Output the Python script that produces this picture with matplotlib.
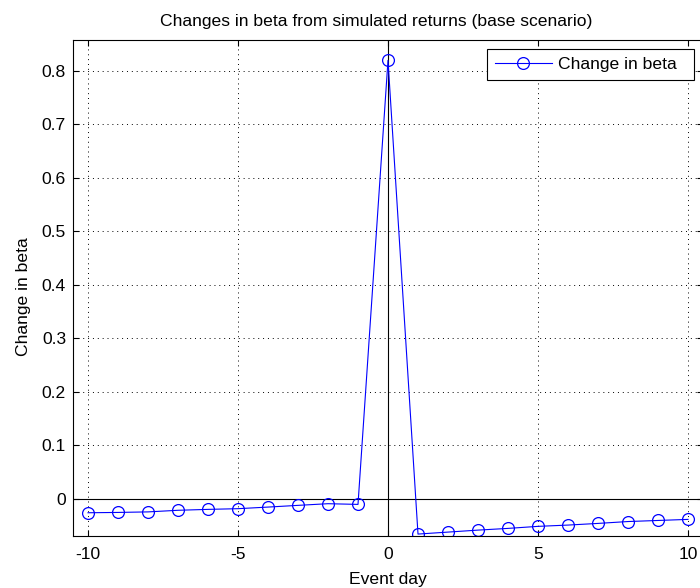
import numpy as np
import matplotlib
matplotlib.use('Agg')
import matplotlib.pyplot as plt

plt.rcParams['font.family'] = ['Liberation Sans', 'DejaVu Sans']

# event days and the change in beta
days = list(range(-10, 11))
beta_change = [-0.0256, -0.025, -0.024, -0.021, -0.0193, -0.018, -0.015, -0.0118,
               -0.0087, -0.010, 0.819,
               -0.0654, -0.0617, -0.058, -0.0548, -0.051, -0.0486, -0.0455,
               -0.042, -0.040, -0.038]

x_ticks = [-10, -5, 0, 5, 10]
y_ticks = [0, 0.1, 0.2, 0.3, 0.4, 0.5, 0.6, 0.7, 0.8]

fs = 12.6

fg = plt.figure(figsize=(7.0, 5.88), dpi=100)
ax = fg.add_axes([73/700, 52/588, 630/700, 496/588])

ax.plot(days, beta_change, '-o', color='#0000ff', lw=0.8, ms=8.5,
        mfc='none', mec='#0000ff', mew=0.9, label='Change in beta  ')
ax.axhline(0, color='k', lw=0.8, zorder=0)
ax.axvline(0, color='k', lw=0.8, zorder=0)

ax.set_xlim(-10.5, 10.5)
ax.set_ylim(-0.069, 0.857)
ax.set_xticks(x_ticks)
ax.set_xticklabels([str(t) for t in x_ticks])
ax.set_yticks(y_ticks)
ax.set_yticklabels(['0' if t == 0 else '%g' % t for t in y_ticks])
ax.grid(True, color='k', ls=(0, (1, 4)), lw=0.7)
ax.tick_params(direction='in', top=True, right=True, labelsize=fs, length=4)
ax.tick_params(axis='x', pad=8)
ax.tick_params(axis='y', pad=5)

ax.set_title('Changes in beta from simulated returns (base scenario)', fontsize=fs,
             pad=10, x=0.481)
ax.set_xlabel('Event day', fontsize=fs, labelpad=7)
ax.set_ylabel('Change in beta', fontsize=fs)
ax.yaxis.set_label_coords(-0.066, 0.482)

leg = ax.legend(loc='upper right', bbox_to_anchor=(0.9857, 0.982), fontsize=fs,
                numpoints=1, handlelength=3.3, handletextpad=0.3, fancybox=False,
                framealpha=1, borderaxespad=0, borderpad=0.45)
leg.get_frame().set_edgecolor('k')
leg.get_frame().set_linewidth(0.8)

for s in ax.spines.values():
    s.set_linewidth(0.8)

fg.savefig('out.png', dpi=100)
